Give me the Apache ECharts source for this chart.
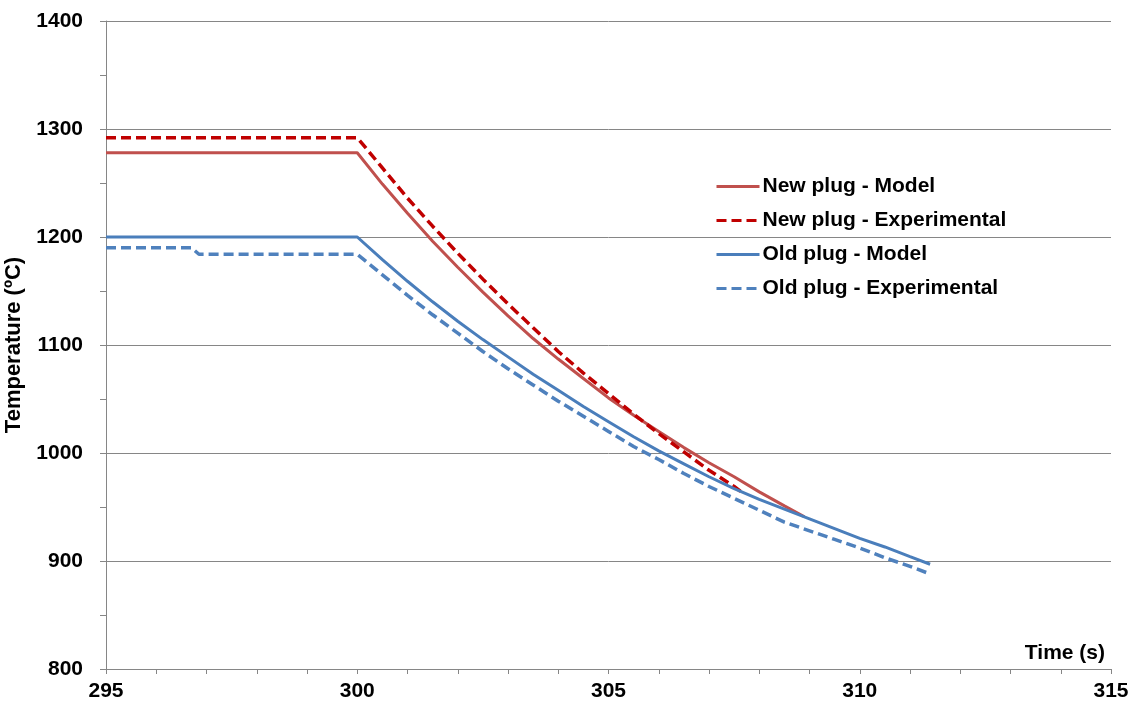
<!DOCTYPE html>
<html>
<head>
<meta charset="utf-8">
<script src="https://cdn.jsdelivr.net/npm/echarts@6/dist/echarts.min.js"></script>
<style>
    html, body { margin: 0; padding: 0; background: #fff; }
    #chart { width: 1144px; height: 715px; }
</style>
</head>
<body>
<div id="chart"></div>
<script>
    // 数据
    var timeNewModel = [295, 300, 300.5, 301, 301.5, 302, 302.5, 303, 303.5, 304, 304.5, 305, 305.5, 306, 306.5, 307, 307.5, 308, 308.5, 308.9];
    var tempNewModel = [1278, 1278, 1249, 1222, 1196, 1172, 1149, 1127, 1106, 1087, 1069, 1051, 1035, 1020, 1005, 991, 978, 964, 951, 941];

    var timeNewExp = [295, 300, 300.5, 301, 301.5, 302, 302.5, 303, 303.5, 304, 304.5, 305, 305.5, 306, 306.5, 307, 307.5, 307.7];
    var tempNewExp = [1292, 1292, 1264, 1236, 1210, 1185, 1161, 1138, 1116, 1094, 1074, 1055, 1036, 1018, 1001, 984, 969, 962];

    var timeOldModel = [295, 300, 300.5, 301, 301.5, 302, 302.5, 303, 303.5, 304, 304.5, 305, 305.5, 306, 306.5, 307, 307.5, 308, 308.5, 309, 309.5, 310, 310.5, 311, 311.4];
    var tempOldModel = [1200, 1200, 1179, 1159, 1140, 1122, 1105, 1089, 1073, 1058, 1043, 1029, 1015, 1002, 990, 978, 967, 957, 948, 939, 930, 921, 913, 904, 897];

    var timeOldExp = [295, 296.7, 296.85, 300, 300.5, 301, 301.5, 302, 302.5, 303, 303.5, 304, 304.5, 305, 305.5, 306, 306.5, 307, 307.5, 308, 308.5, 308.75, 309.5, 310, 310.5, 311, 311.4];
    var tempOldExp = [1190, 1190, 1184, 1184, 1165, 1146, 1128, 1111, 1094, 1078, 1063, 1048, 1034, 1020, 1006, 994, 981, 969, 958, 947, 936, 932, 920, 912, 903, 895, 888];

    var seriesNames = ['New plug - Model', 'New plug - Experimental', 'Old plug - Model', 'Old plug - Experimental'];

    function zip(ts, vs) {
        var out = [];
        for (var i = 0; i < ts.length; i++) {
            out.push([ts[i], vs[i]]);
        }
        return out;
    }

    var fontFamily = 'Liberation Sans, Arial, sans-serif',
        axisGrey = '#868686';

    var chart = echarts.init(document.getElementById('chart'));

    function lineSeries(name, data, color, dashed, width) {
        return {
            name: name,
            type: 'line',
            data: data,
            symbol: 'none',
            showSymbol: false,
            smooth: false,
            animation: false,
            lineStyle: {
                color: color,
                width: width,
                type: dashed ? [10, 5] : 'solid'
            },
            itemStyle: { color: color }
        };
    }

    var option = {
        animation: false,
        backgroundColor: '#fff',
        grid: {
            left: 106,
            right: 33,
            top: 21,
            bottom: 46,
            containLabel: false,
            outerBoundsMode: 'none'
        },
        legend: {
            orient: 'vertical',
            left: 715,
            top: 176,
            padding: 0,
            itemWidth: 43,
            itemHeight: 14,
            itemGap: 13,
            data: seriesNames,
            itemStyle: {
                opacity: 0,
                color: 'rgba(0,0,0,0)',
                borderWidth: 0
            },
            lineStyle: { width: 3 },
            textStyle: {
                fontFamily: fontFamily,
                fontWeight: 'bold',
                fontSize: 21,
                color: '#000',
                lineHeight: 21,
                padding: [0, 0, 0, -2]
            }
        },
        xAxis: {
            type: 'value',
            min: 295,
            max: 315,
            interval: 5,
            name: 'Time (s)',
            nameLocation: 'end',
            nameGap: -6,
            nameTextStyle: {
                fontFamily: fontFamily,
                fontWeight: 'bold',
                fontSize: 21,
                color: '#000',
                align: 'right',
                verticalAlign: 'bottom',
                padding: [0, 0, 5, 0]
            },
            axisLine: { show: true, lineStyle: { color: axisGrey, width: 1 } },
            axisTick: { show: true, length: 5, lineStyle: { color: axisGrey } },
            minorTick: { show: true, splitNumber: 5, length: 5, lineStyle: { color: axisGrey } },
            splitLine: { show: false },
            axisLabel: {
                margin: 12,
                fontFamily: fontFamily,
                fontWeight: 'bold',
                fontSize: 21,
                color: '#000'
            }
        },
        yAxis: {
            type: 'value',
            min: 800,
            max: 1400,
            interval: 100,
            name: 'Temperature (ºC)',
            nameLocation: 'middle',
            nameRotate: 90,
            nameGap: 74,
            nameTextStyle: {
                fontFamily: fontFamily,
                fontWeight: 'bold',
                fontSize: 22,
                color: '#000'
            },
            axisLine: { show: true, lineStyle: { color: axisGrey, width: 1 } },
            axisTick: { show: true, length: 6, lineStyle: { color: axisGrey } },
            minorTick: { show: true, splitNumber: 2, length: 6, lineStyle: { color: axisGrey } },
            splitLine: { show: true, lineStyle: { color: axisGrey, width: 1 } },
            axisLabel: {
                margin: 23,
                fontFamily: fontFamily,
                fontWeight: 'bold',
                fontSize: 21,
                color: '#000',
                formatter: function (v) {
                    return String(v);
                }
            }
        },
        series: [
            lineSeries(seriesNames[0], zip(timeNewModel, tempNewModel), '#C0504D', false, 3),
            lineSeries(seriesNames[1], zip(timeNewExp, tempNewExp), '#C00000', true, 3.5),
            lineSeries(seriesNames[2], zip(timeOldModel, tempOldModel), '#4A7EBB', false, 3),
            lineSeries(seriesNames[3], zip(timeOldExp, tempOldExp), '#4F81BD', true, 3.5)
        ]
    };

    chart.setOption(option);
</script>
</body>
</html>
